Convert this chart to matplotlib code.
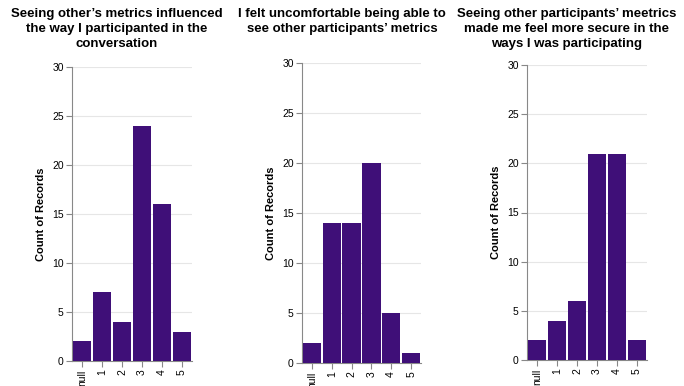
import matplotlib
matplotlib.use("Agg")
import matplotlib.pyplot as plt

plt.rcParams['font.family'] = ['Liberation Sans', 'DejaVu Sans']

categories = ["null", "1", "2", "3", "4", "5"]
influenced = [2, 7, 4, 24, 16, 3]
uncomfortable = [2, 14, 14, 20, 5, 1]
secure = [2, 4, 6, 21, 21, 2]

titles = [
    "Seeing other\u2019s metrics influenced\nthe way I participanted in the\nconversation",
    "I felt uncomfortable being able to\nsee other participants\u2019 metrics",
    "Seeing other participants\u2019 meetrics\nmade me feel more secure in the\nways I was participating",
]
series = [influenced, uncomfortable, secure]

# axes boxes in pixels: left, right, top, bottom
boxes = [(72, 192, 67, 361), (302, 421, 63, 363), (527, 647, 65, 360)]
title_x = [117, 342, 567]

W, H = 684, 386
fig = plt.figure(figsize=(W / 100, H / 100), dpi=100)
bar_color = "#3f0f78"
axis_color = "#888888"

for vals, box, title, tx in zip(series, boxes, titles, title_x):
    l, r, t, b = box
    ax = fig.add_axes([l / W, (H - b) / H, (r - l) / W, (b - t) / H])
    x = range(len(categories))
    ax.bar(x, vals, width=0.92, color=bar_color, zorder=3)
    ax.set_xlim(-0.5, len(categories) - 0.5)
    ax.set_ylim(0, 30)
    ax.set_yticks(range(0, 31, 5))
    ax.set_xticks(list(x))
    ax.set_xticklabels(categories, rotation=90, fontsize=7.5)
    ax.tick_params(axis='y', labelsize=7.5, length=4, color=axis_color, pad=2)
    ax.tick_params(axis='x', length=4, color=axis_color, pad=2)
    ax.grid(axis='y', color="#e6e6e6", linewidth=0.8, zorder=0)
    for s in ("top", "right"):
        ax.spines[s].set_visible(False)
    for s in ("left", "bottom"):
        ax.spines[s].set_color(axis_color)
        ax.spines[s].set_linewidth(0.8)
    ax.set_ylabel("Count of Records", fontsize=8, fontweight="bold", labelpad=4)
    fig.text(tx / W, 1 - 8 / H, title, ha="center", va="top",
             fontsize=9.5, fontweight="bold", linespacing=1.32)

fig.savefig("out.png", dpi=100)
